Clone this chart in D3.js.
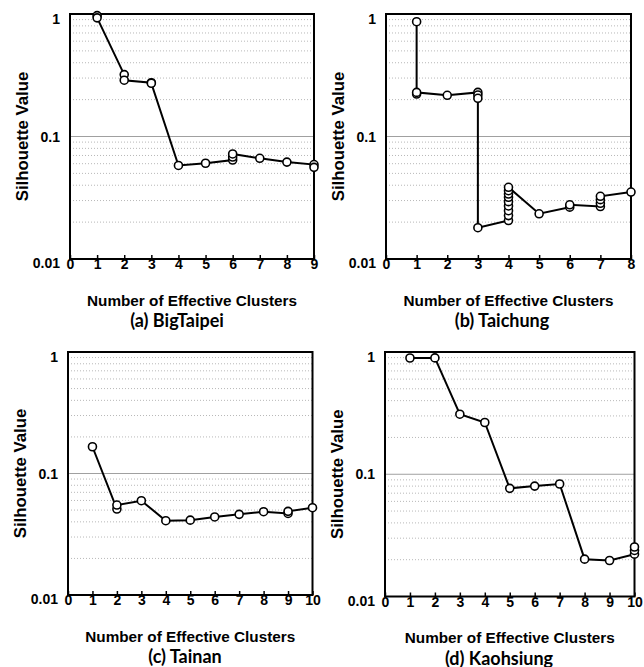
<!DOCTYPE html>
<html>
<head>
<meta charset="utf-8">
<script src="https://cdnjs.cloudflare.com/ajax/libs/d3/7.8.5/d3.min.js"></script>
<style>
  body { margin: 0; background: #fff; }
  svg { display: block; }
  .tick-label { font-family: "Liberation Sans", Arial, sans-serif; font-weight: bold; font-size: 14px; }
  .axis-title { font-family: "Liberation Sans", Arial, sans-serif; font-weight: bold; }
  .caption { font-family: Lato, "Open Sans", sans-serif; font-weight: bold; font-size: 18px; }
</style>
</head>
<body>
<div id="chart"></div>
<script>
// data, points in drawing order
var taipeiX = [1, 1, 2, 2, 3, 3, 4, 5, 6, 6, 6, 7, 8, 9, 9];
var taipeiY = [0.97, 0.93, 0.32, 0.288, 0.275, 0.272, 0.058, 0.0605, 0.0643, 0.068, 0.072, 0.0664, 0.0618, 0.059, 0.056];

var taichungX = [1, 1, 1, 2, 3, 3, 3, 3, 4, 4, 4, 4, 4, 4, 4, 4, 4, 5, 6, 6, 7, 7, 7, 7, 8];
var taichungY = [0.865, 0.222, 0.229, 0.217, 0.229, 0.218, 0.205, 0.018,
                 0.0206, 0.0226, 0.0248, 0.0271, 0.0294, 0.0319, 0.0339, 0.0361, 0.0385,
                 0.0234, 0.0265, 0.0277, 0.0268, 0.0285, 0.0305, 0.0325, 0.0352];

var tainanX = [1, 2, 2, 3, 4, 5, 6, 7, 8, 9, 9, 10];
var tainanY = [0.166, 0.051, 0.055, 0.0597, 0.0409, 0.0413, 0.0439, 0.0461, 0.0485, 0.0469, 0.0488, 0.0523];

var kaohsiungX = [1, 2, 3, 4, 5, 6, 7, 8, 9, 10, 10, 10];
var kaohsiungY = [0.893, 0.895, 0.31, 0.265, 0.0767, 0.080, 0.0832, 0.0202, 0.0197, 0.0222, 0.0238, 0.0254];

var yTicks = [1, 0.1, 0.01];
var yTickLabels = ["1", "0.1", "0.01"];
var yTitle = "Silhouette Value";
var xTitle = "Number of Effective Clusters";
var captions = ["(a) BigTaipei", "(b) Taichung", "(c) Tainan", "(d) Kaohsiung"];

// panel layout
var panels = [
  { left: 70,  right: 314,   top: 14,  bottom: 259,   xMax: 9,  capX: 177, xs: taipeiX,    ys: taipeiY },
  { left: 386, right: 631,   top: 14,  bottom: 259,   xMax: 8,  capX: 502, xs: taichungX,  ys: taichungY },
  { left: 68,  right: 312.5, top: 352, bottom: 595,   xMax: 10, capX: 185, xs: tainanX,    ys: tainanY },
  { left: 385, right: 634.5, top: 352, bottom: 596.5, xMax: 10, capX: 499, xs: kaohsiungX, ys: kaohsiungY }
];

var svg = d3.select('#chart').append('svg')
  .attr('width', 644)
  .attr('height', 667);

// minor grid values 0.02..0.09, 0.2..0.9
var minor = [];
[0.01, 0.1].forEach(function(d) {
  for (var k = 2; k <= 9; k++) minor.push(k * d);
});

panels.forEach(function(p, i) {
  var x = d3.scaleLinear().domain([0, p.xMax]).range([p.left, p.right]);
  var y = d3.scaleLog().domain([0.01, 1]).range([p.bottom, p.top]);
  var g = svg.append('g');

  // dotted minor grid
  g.selectAll('.minor').data(minor).enter().append('line')
    .attr('x1', p.left).attr('x2', p.right)
    .attr('y1', d => y(d)).attr('y2', d => y(d))
    .attr('stroke', '#b8b8b8')
    .attr('stroke-width', 1)
    .attr('stroke-dasharray', '1,2');

  // solid line at 0.1
  g.append('line')
    .attr('x1', p.left).attr('x2', p.right)
    .attr('y1', y(0.1)).attr('y2', y(0.1))
    .attr('stroke', '#a0a0a0')
    .attr('stroke-width', 1);

  // bottom ticks (pointing inward) + labels
  var xAxis = d3.axisBottom(x).ticks(p.xMax).tickSizeInner(-4).tickSizeOuter(0).tickFormat(d3.format('d'));
  var ax = g.append('g').attr('transform', `translate(0, ${p.bottom})`).call(xAxis);
  ax.attr('font-size', null).attr('font-family', null);
  ax.select('.domain').remove();
  ax.selectAll('.tick line').attr('stroke', '#000').attr('stroke-width', 1.5);
  ax.selectAll('.tick text')
    .attr('class', 'tick-label')
    .attr('fill', '#000')
    .attr('y', 10)
    .attr('dy', 0);

  // y tick labels
  g.selectAll('.ylab').data(yTicks).enter().append('text')
    .attr('class', 'tick-label')
    .attr('x', p.left - 10)
    .attr('y', (d, j) => y(d) + [10, 5, 9][j])
    .attr('text-anchor', 'end')
    .text((d, j) => yTickLabels[j]);

  // frame
  g.append('rect')
    .attr('x', p.left).attr('y', p.top)
    .attr('width', p.right - p.left).attr('height', p.bottom - p.top)
    .attr('fill', 'none')
    .attr('stroke', '#000')
    .attr('stroke-width', 2);

  // line + circles
  var pts = p.xs.map((v, j) => [v, p.ys[j]]);
  g.append('path')
    .datum(pts)
    .attr('fill', 'none')
    .attr('stroke', '#000')
    .attr('stroke-width', 2)
    .attr('d', d3.line().x(d => x(d[0])).y(d => y(d[1])));

  g.selectAll('.pt').data(pts).enter().append('circle')
    .attr('cx', d => x(d[0]))
    .attr('cy', d => y(d[1]))
    .attr('r', 4)
    .attr('fill', '#fff')
    .attr('stroke', '#000')
    .attr('stroke-width', 1.6);

  // axis titles
  g.append('text')
    .attr('class', 'axis-title')
    .attr('transform', `translate(${p.left - 42}, ${(p.top + p.bottom) / 2}) rotate(-90)`)
    .attr('text-anchor', 'middle')
    .style('font-size', '16.8px')
    .text(yTitle);

  g.append('text')
    .attr('class', 'axis-title')
    .attr('x', (p.left + p.right) / 2)
    .attr('y', p.bottom + 46.5)
    .attr('text-anchor', 'middle')
    .style('font-size', '15.3px')
    .text(xTitle);

  g.append('text')
    .attr('class', 'caption')
    .attr('x', p.capX)
    .attr('y', p.bottom + 68)
    .attr('text-anchor', 'middle')
    .text(captions[i]);
});
</script>
</body>
</html>
